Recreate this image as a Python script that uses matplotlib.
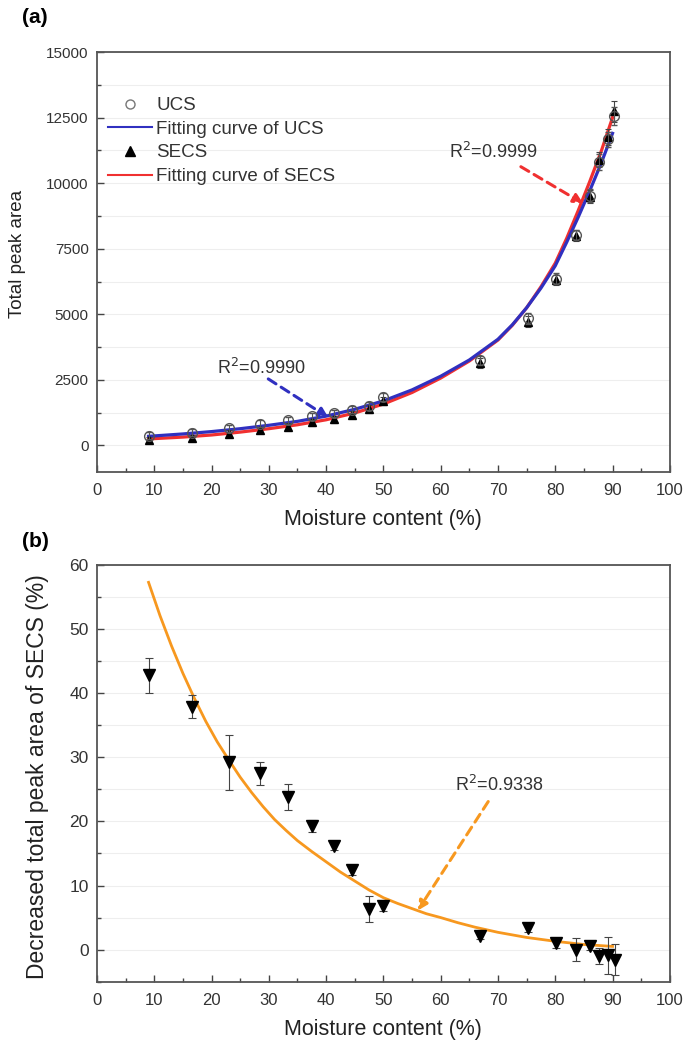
import matplotlib
matplotlib.use('Agg')
import matplotlib.pyplot as plt
from matplotlib.ticker import MultipleLocator
from matplotlib.lines import Line2D

plt.rcParams['font.family'] = ['Liberation Sans', 'DejaVu Sans']

# (a) total peak area vs moisture content
moisture_a = [9, 16.5, 23, 28.5, 33.3, 37.5, 41.3, 44.5, 47.4, 50,
              66.8, 75.2, 80.2, 83.7, 86, 87.7, 89.2, 90.3]
ucs_area = [380, 490, 660, 830, 960, 1110, 1220, 1360, 1500, 1860,
            3250, 4850, 6360, 8030, 9520, 10800, 11670, 12550]
ucs_err = [120, 120, 130, 130, 130, 130, 130, 140, 140, 150,
           180, 200, 200, 200, 250, 300, 300, 350]
secs_area = [200, 290, 450, 590, 720, 880, 1000, 1180, 1390, 1700,
             3150, 4720, 6300, 8000, 9480, 10900, 11750, 12750]
secs_err = [120, 120, 130, 130, 130, 130, 130, 140, 140, 150,
            180, 200, 200, 200, 250, 300, 300, 400]

# fitting curves
fit_x_a = [9, 15, 20, 25, 30, 35, 40, 45, 50, 55, 60, 65, 70, 72.5, 75, 77.5,
           80, 82, 84, 86, 88, 90]
fit_ucs = [350, 440, 530, 640, 770, 920, 1120, 1380, 1700, 2120, 2640, 3260,
           4050, 4600, 5250, 6000, 6850, 7750, 8700, 9700, 10750, 11900]
fit_secs = [250, 320, 400, 510, 640, 790, 980, 1240, 1580, 2020, 2570, 3220,
            4020, 4580, 5250, 6050, 6950, 7900, 8950, 10050, 11200, 12500]

# (b) decreased total peak area of SECS
moisture_b = [9, 16.5, 23, 28.5, 33.3, 37.5, 41.3, 44.5, 47.4, 50,
              66.8, 75.2, 80.2, 83.7, 86, 87.7, 89.2, 90.4]
decrease_b = [42.8, 37.9, 29.2, 27.5, 23.8, 19.3, 16.2, 12.4, 6.3, 6.8,
              2.2, 3.3, 1.0, 0.0, 0.5, -1.0, -0.9, -1.6]
decrease_err = [2.7, 1.8, 4.3, 1.8, 2.0, 1.0, 0.6, 0.7, 2.0, 0.7,
                0.5, 0.6, 0.8, 1.8, 0.6, 1.2, 2.9, 2.4]
fit_x_b = [9, 11, 13, 15, 17, 19, 21, 23, 25, 27, 29, 31, 33, 35, 37.5, 40,
           42.5, 45, 47.5, 50, 52.5, 55, 57.5, 60, 63, 66, 70, 75, 80, 85, 90]
fit_decrease = [57.3, 52.1, 47.4, 43.1, 39.2, 35.6, 32.4, 29.6, 26.9, 24.5,
                22.3, 20.3, 18.6, 17.0, 15.3, 13.7, 12.1, 10.7, 9.3, 8.1,
                7.2, 6.4, 5.6, 5.0, 4.2, 3.5, 2.7, 1.9, 1.3, 0.8, 0.5]

BLUE = '#3030c0'
RED = '#f03030'
ORANGE = '#f7981f'
TXT = '#333333'

fig = plt.figure(figsize=(6.86, 10.45), dpi=100)
ax1 = fig.add_axes([0.1414, 0.5486, 0.835, 0.4016])
ax2 = fig.add_axes([0.1414, 0.0606, 0.835, 0.3987])


def style_axes(ax, ylabelsize):
    ax.set_xlim(0, 100)
    ax.xaxis.set_major_locator(MultipleLocator(10))
    ax.xaxis.set_minor_locator(MultipleLocator(5))
    ax.tick_params(which='both', direction='in', top=False, right=False,
                   width=1, colors='#444444', labelcolor=TXT)
    ax.tick_params(which='major', length=5)
    ax.tick_params(which='minor', length=3)
    ax.tick_params(axis='x', labelsize=12, pad=8)
    ax.tick_params(axis='y', labelsize=ylabelsize, pad=6)
    for sp in ax.spines.values():
        sp.set_color('#555555')
        sp.set_linewidth(1.3)
    ax.yaxis.grid(True, which='both', color='#eeeeee', lw=0.8)
    ax.set_axisbelow(True)
    ax.set_xlabel('Moisture content (%)', fontsize=15.5, color='#222222', labelpad=8)


def dashed_arrow(ax, start, end, color):
    ax.annotate('', xy=end, xytext=start,
                arrowprops=dict(arrowstyle='-|>', color=color, lw=2.2, ls=(0, (3, 2)),
                                mutation_scale=14, shrinkA=0, shrinkB=0))


# ---- panel (a)
ax1.plot(fit_x_a, fit_secs, color=RED, lw=2.3, zorder=2)
ax1.plot(fit_x_a, fit_ucs, color=BLUE, lw=2.3, zorder=2.1)
ax1.errorbar(moisture_a, secs_area, yerr=secs_err, fmt='^', color='black', ms=6,
             ecolor='#444444', elinewidth=0.8, capsize=2.5, capthick=0.8, zorder=3)
ax1.errorbar(moisture_a, ucs_area, yerr=ucs_err, fmt='o', mfc='none', mec='#555555',
             ms=7, mew=1, ecolor='#555555', elinewidth=0.8, capsize=2.5, capthick=0.8,
             zorder=3.1)
ax1.set_ylim(-1000, 15000)
ax1.yaxis.set_major_locator(MultipleLocator(2500))
ax1.yaxis.set_minor_locator(MultipleLocator(1250))
style_axes(ax1, 11)

handles = [Line2D([], [], ls='none', marker='o', mfc='none', mec='#777777', ms=6.5),
           Line2D([], [], color=BLUE, lw=1.5),
           Line2D([], [], ls='none', marker='^', color='black', ms=7),
           Line2D([], [], color=RED, lw=1.5)]
labels = ['UCS', 'Fitting curve of UCS', 'SECS', 'Fitting curve of SECS']
ax1.legend(handles, labels, loc='upper left', bbox_to_anchor=(0.02, 0.893),
           frameon=False, fontsize=13.5, handlelength=2.3, handletextpad=0.25,
           labelspacing=0.35, borderpad=0, borderaxespad=0, labelcolor=TXT)

ax1.text(28.7, 2971, 'R$^2$=0.9990', fontsize=13, color=TXT, ha='center', va='center')
dashed_arrow(ax1, (29.9, 2538), (40.4, 1066), BLUE)
ax1.text(69.1, 11176, 'R$^2$=0.9999', fontsize=13, color=TXT, ha='center', va='center')
dashed_arrow(ax1, (74.0, 10628), (84.9, 9221), RED)

# ---- panel (b)
ax2.plot(fit_x_b, fit_decrease, color=ORANGE, lw=2, zorder=2)
ax2.errorbar(moisture_b, decrease_b, yerr=decrease_err, fmt='v', color='black', ms=8.5,
             ecolor='#444444', elinewidth=0.8, capsize=3, capthick=0.8, zorder=3)
ax2.set_ylim(-5, 60)
ax2.yaxis.set_major_locator(MultipleLocator(10))
ax2.yaxis.set_minor_locator(MultipleLocator(5))
style_axes(ax2, 12.5)

ax2.text(70.2, 25.7, 'R$^2$=0.9338', fontsize=13, color=TXT, ha='center', va='center')
dashed_arrow(ax2, (68.3, 23.1), (56.0, 6.1), ORANGE)

# labels
fig.text(0.025, 0.757, 'Total peak area', rotation=90, ha='center', va='center',
         fontsize=13.5, color='#222222')
fig.text(0.054, 0.257, 'Decreased total peak area of SECS (%)', rotation=90,
         ha='center', va='center', fontsize=16.5, color='#222222')
fig.text(0.032, 0.983, '(a)', fontsize=15, fontweight='bold', ha='left', va='center')
fig.text(0.032, 0.482, '(b)', fontsize=15, fontweight='bold', ha='left', va='center')

fig.savefig('out.png', dpi=100)
